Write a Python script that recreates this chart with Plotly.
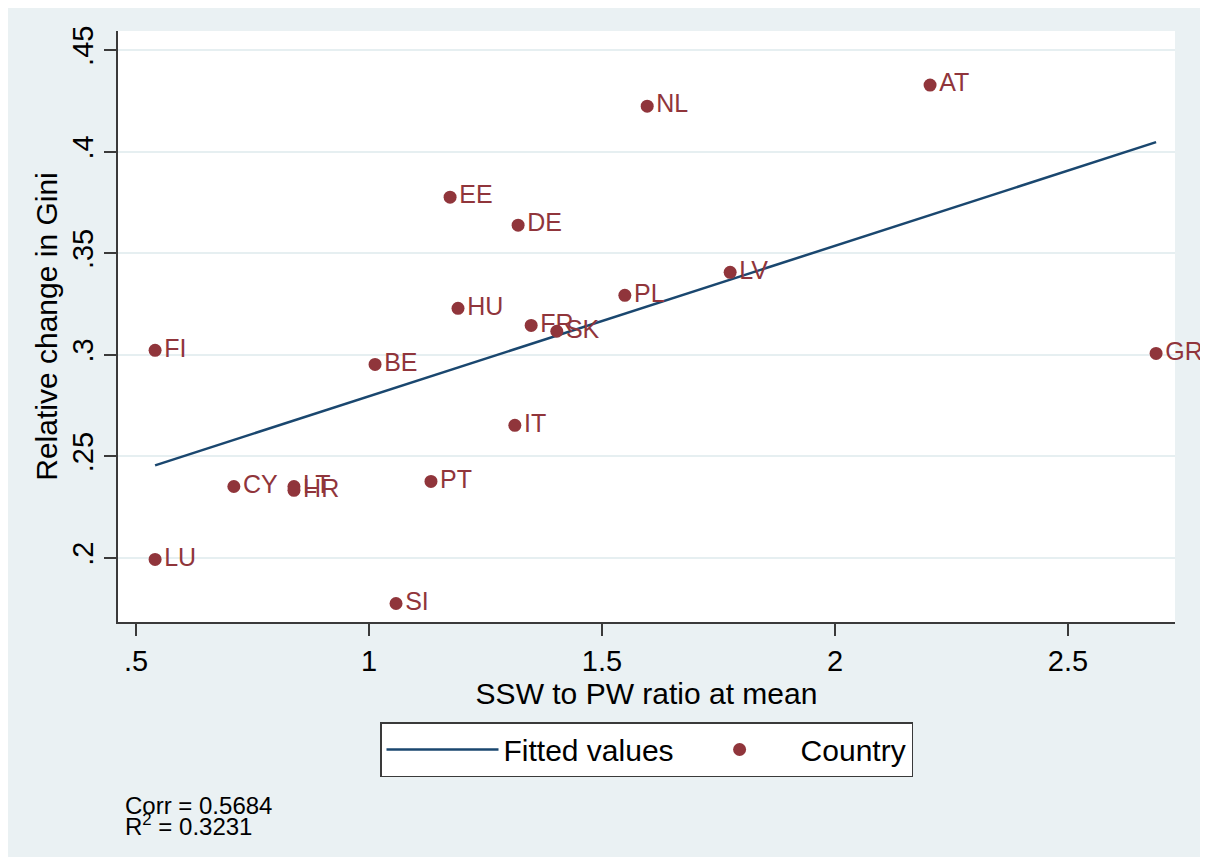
import plotly.graph_objects as go

# ---- data ----
countries = ["AT", "NL", "EE", "DE", "LV", "PL", "HU", "FR", "SK", "FI",
             "GR", "BE", "IT", "PT", "CY", "LT", "HR", "LU", "SI"]
ssw_pw_ratio = [2.204, 1.597, 1.174, 1.320, 1.775, 1.549, 1.191, 1.348, 1.403, 0.541,
                2.689, 1.013, 1.313, 1.133, 0.710, 0.839, 0.839, 0.541, 1.058]
gini_change = [0.4328, 0.4224, 0.3776, 0.3638, 0.3406, 0.3293, 0.3229, 0.3145, 0.3116, 0.3022,
               0.3007, 0.2953, 0.2653, 0.2377, 0.2352, 0.2352, 0.2333, 0.1993, 0.1776]
fit_x = [0.541, 2.689]
fit_y = [0.2456, 0.4047]
x_ticks = [0.5, 1, 1.5, 2, 2.5]
x_tick_labels = [".5", "1", "1.5", "2", "2.5"]
y_ticks = [0.2, 0.25, 0.3, 0.35, 0.4, 0.45]
y_tick_labels = [".2", ".25", ".3", ".35", ".4", ".45"]
corr_text = "Corr = 0.5684"
r2_text = "R<sup>2</sup> = 0.3231"

NAVY = "#1A476F"
MAROON = "#90353B"
BG = "#EAF1F3"
AXC = "#3a3a3a"
FONT = "Liberation Sans, Arial, sans-serif"

# figure is placed 8px from the page corner; coordinates below are in figure pixels
L, R, T, B = 110, 1167, 23, 614
W, H = 1200, 849
def px_x(p):
    return (p - L) / (R - L)
def px_y(p):
    return (B - p) / (B - T)

fig = go.Figure()
fig.add_trace(go.Scatter(
    x=fit_x, y=fit_y, mode="lines", name="Fitted values",
    line=dict(color=NAVY, width=2.5),
))
fig.add_trace(go.Scatter(
    x=ssw_pw_ratio, y=gini_change, mode="markers+text", name="Country",
    text=countries, textposition="middle right", cliponaxis=False,
    textfont=dict(color=MAROON, size=25, family=FONT),
    marker=dict(color=MAROON, size=13),
))

fig.update_layout(
    width=W, height=H,
    paper_bgcolor=BG, plot_bgcolor="white",
    margin=dict(l=L, r=W - R, t=T, b=H - B, autoexpand=False),
    font=dict(family=FONT, color="black", size=30),
    showlegend=True,
    legend=dict(
        orientation="h", x=0.5, xanchor="center", y=px_y(714), yanchor="top",
        bgcolor="white", bordercolor=AXC, borderwidth=1.5,
        font=dict(size=30, family=FONT, color="black"),
        itemwidth=112, traceorder="normal",
    ),
    xaxis=dict(
        range=[0.4614, 2.7296], tickvals=x_ticks, ticktext=x_tick_labels,
        showgrid=False, zeroline=False, showline=True, linecolor=AXC, linewidth=1.5,
        ticks="outside", ticklen=12, tickwidth=1.5, tickcolor=AXC, automargin=False,
        tickfont=dict(size=29, family=FONT, color="black"),
        title=dict(text="SSW to PW ratio at mean", font=dict(size=30, family=FONT, color="black"), standoff=0),
    ),
    yaxis=dict(
        range=[0.1685, 0.4594], tickvals=y_ticks, ticktext=y_tick_labels,
        showgrid=True, gridcolor="#E6EFF1", gridwidth=2, automargin=False,
        zeroline=False, showline=True, linecolor=AXC, linewidth=1.5,
        ticks="outside", ticklen=12, tickwidth=1.5, tickcolor=AXC, tickangle=-90,
        tickfont=dict(size=29, family=FONT, color="black"),
        title=dict(text="Relative change in Gini", font=dict(size=30, family=FONT, color="black"), standoff=0),
    ),
    annotations=[
        dict(text=corr_text, xref="paper", yref="paper", x=px_x(115), y=px_y(797),
             xanchor="left", yanchor="middle", showarrow=False,
             font=dict(size=24, family=FONT, color="black")),
        dict(text=r2_text, xref="paper", yref="paper", x=px_x(115), y=px_y(817),
             xanchor="left", yanchor="middle", showarrow=False,
             font=dict(size=24, family=FONT, color="black")),
    ],
)

fig.write_html("out.html")
